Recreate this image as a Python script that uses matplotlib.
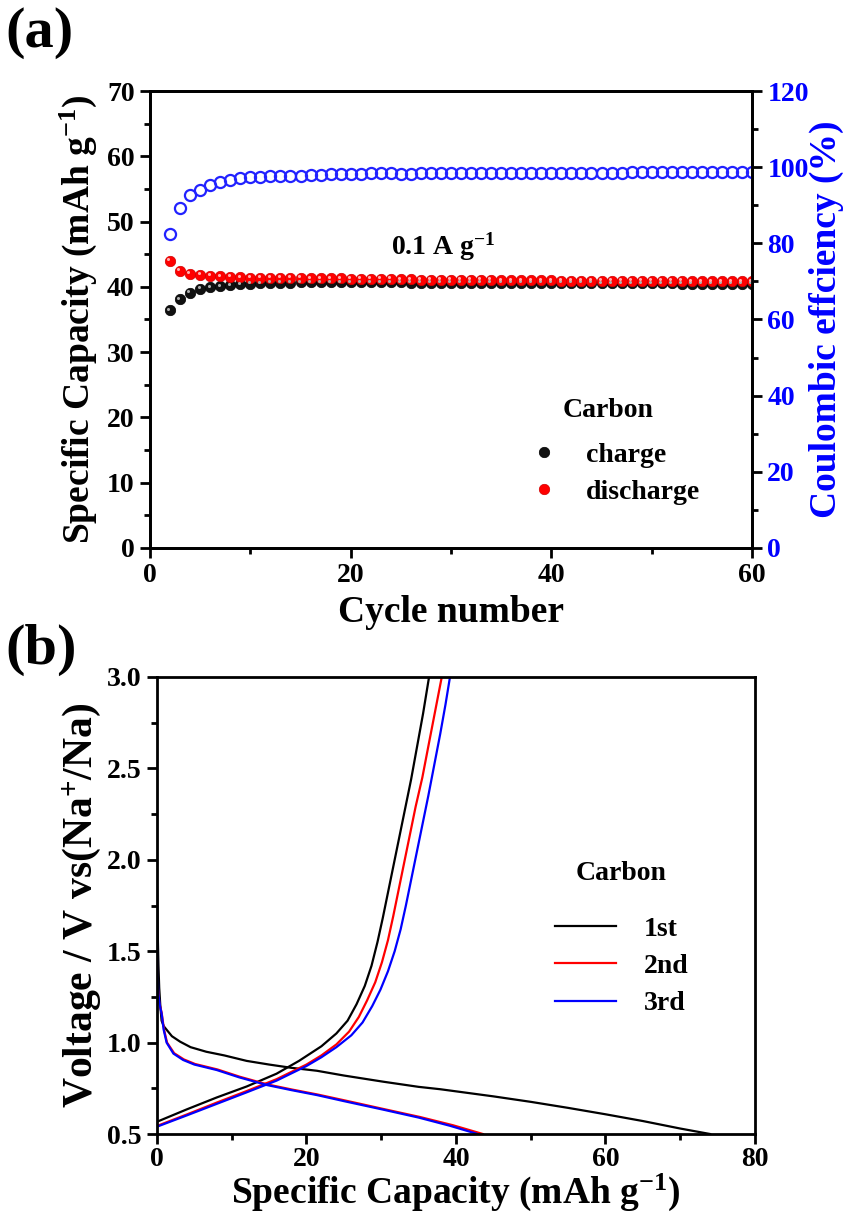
import numpy as np
import matplotlib
matplotlib.use('Agg')
import matplotlib.pyplot as plt
from matplotlib.ticker import MultipleLocator, FormatStrFormatter
from matplotlib.transforms import offset_copy

plt.rcParams['font.family'] = ['Liberation Serif', 'DejaVu Serif']
plt.rcParams['font.weight'] = 'bold'
plt.rcParams['mathtext.fontset'] = 'custom'
plt.rcParams['mathtext.rm'] = 'Liberation Serif'
plt.rcParams['mathtext.bf'] = 'Liberation Serif:bold'
plt.rcParams['mathtext.it'] = 'Liberation Serif:italic'

# ---- (a) cycling data ----
cycles = list(range(2, 61))
charge = [36.4, 38.1, 39.1, 39.65, 39.95, 40.1, 40.25, 40.4, 40.5, 40.55,
          40.6, 40.65, 40.65, 40.7, 40.7, 40.7, 40.7, 40.7, 40.7, 40.7,
          40.7, 40.7, 40.7, 40.7, 40.65, 40.65, 40.65, 40.65, 40.65, 40.65,
          40.65, 40.65, 40.65, 40.6, 40.6, 40.6, 40.6, 40.6, 40.6, 40.6,
          40.6, 40.6, 40.6, 40.55, 40.55, 40.55, 40.55, 40.55, 40.55, 40.55,
          40.55, 40.5, 40.5, 40.5, 40.5, 40.5, 40.5, 40.5, 40.5]
discharge = [44.0, 42.5, 42.0, 41.8, 41.7, 41.6, 41.5, 41.45, 41.4, 41.4,
             41.4, 41.35, 41.35, 41.35, 41.3, 41.3, 41.3, 41.3, 41.25, 41.25,
             41.2, 41.2, 41.2, 41.15, 41.15, 41.1, 41.1, 41.1, 41.1, 41.05,
             41.05, 41.05, 41.05, 41.0, 41.0, 41.0, 41.0, 41.0, 41.0, 40.95,
             40.95, 40.95, 40.95, 40.95, 40.95, 40.9, 40.9, 40.9, 40.9, 40.9,
             40.9, 40.9, 40.85, 40.85, 40.85, 40.85, 40.85, 40.85, 40.85]
efficiency = [82.4, 89.2, 92.6, 94.1, 95.2, 96.0, 96.6, 97.1, 97.5, 97.5,
              97.6, 97.6, 97.7, 97.8, 97.9, 98.0, 98.1, 98.2, 98.3, 98.3,
              98.4, 98.5, 98.6, 98.3, 98.3, 98.4, 98.4, 98.4, 98.5, 98.5,
              98.5, 98.5, 98.5, 98.5, 98.5, 98.5, 98.5, 98.6, 98.6, 98.6,
              98.6, 98.6, 98.6, 98.6, 98.6, 98.6, 98.7, 98.7, 98.7, 98.7,
              98.7, 98.7, 98.8, 98.8, 98.8, 98.8, 98.8, 98.8, 98.8]

# ---- (b) charge/discharge profiles (capacity, voltage) ----
dis1_x = [0, 0.1, 0.2, 0.3, 0.45, 0.62, 0.9, 1.3, 2, 3.1, 4.5, 6.6, 9, 12, 15,
          18, 21.4, 25, 30.3, 35, 37.9, 45, 50, 55, 60, 65, 70, 74]
dis1_v = [1.85, 1.6, 1.42, 1.3, 1.2, 1.12, 1.09, 1.07, 1.035, 1.005, 0.975,
          0.95, 0.93, 0.9, 0.88, 0.862, 0.846, 0.82, 0.786, 0.758, 0.745,
          0.706, 0.676, 0.643, 0.608, 0.571, 0.530, 0.5]
chg1_x = [0, 4, 8, 12, 16, 19, 22, 24, 25.5, 26.7, 27.8, 28.7, 29.5, 30.2,
          30.9, 31.6, 32.4, 33.2, 34.0, 34.8, 35.6, 36.4]
chg1_v = [0.567, 0.635, 0.70, 0.76, 0.83, 0.90, 0.98, 1.05, 1.12, 1.21, 1.31,
          1.42, 1.55, 1.68, 1.82, 1.96, 2.12, 2.28, 2.44, 2.62, 2.80, 3.0]
dis2_x = [0, 0.12, 0.3, 0.62, 0.95, 1.35, 2.3, 3.6, 5.1, 8.1, 11.1, 14.8, 18.1,
          21.5, 25.1, 30.4, 35.2, 39.6, 43.6]
dis2_v = [1.45, 1.3, 1.22, 1.165, 1.07, 1.0, 0.942, 0.908, 0.883, 0.853, 0.813,
          0.771, 0.743, 0.716, 0.684, 0.636, 0.593, 0.548, 0.5]
chg2_x = [0, 4, 8, 12, 16, 20, 22, 24, 25.7, 27.0, 28.1, 29.2, 30.1, 30.9, 31.6,
          32.3, 33.0, 33.8, 34.6, 35.5, 36.3, 37.2, 38.1]
chg2_v = [0.544, 0.607, 0.672, 0.735, 0.80, 0.88, 0.93, 0.99, 1.06, 1.14, 1.23,
          1.33, 1.44, 1.56, 1.69, 1.83, 1.97, 2.13, 2.29, 2.45, 2.62, 2.81, 3.0]
dis3_x = [0, 0.08, 0.18, 0.4, 0.62, 0.9, 1.29, 2.2, 3.5, 5, 8.0, 11, 14.7, 18,
          21.4, 25, 30.3, 35, 39.2, 42.9]
dis3_v = [1.56, 1.4, 1.27, 1.2, 1.16, 1.07, 1.0, 0.94, 0.905, 0.88, 0.85, 0.81,
          0.768, 0.74, 0.713, 0.68, 0.633, 0.59, 0.545, 0.5]
chg3_x = [0, 4, 8, 12, 16, 20, 22, 24, 26, 27.5, 28.8, 29.9, 30.9, 31.8, 32.6,
          33.3, 34.0, 34.7, 35.5, 36.3, 37.1, 37.9, 38.6, 39.2]
chg3_v = [0.540, 0.602, 0.665, 0.728, 0.792, 0.872, 0.92, 0.975, 1.04, 1.11,
          1.20, 1.29, 1.39, 1.50, 1.62, 1.75, 1.89, 2.03, 2.19, 2.35, 2.52,
          2.69, 2.85, 3.0]

BLUE = '#0000ff'
tick_fs = 20
label_fs = 27

fig = plt.figure(figsize=(8.48, 12.22), dpi=100)
ax1 = fig.add_axes([0.1769, 0.5516, 0.7099, 0.3739])
ax3 = fig.add_axes([0.1851, 0.0720, 0.7052, 0.3740])


def style_axis(ax):
    for s in ax.spines.values():
        s.set_linewidth(2)
    ax.tick_params(which='major', direction='out', length=7, width=2,
                   labelsize=tick_fs, pad=4)
    ax.tick_params(which='minor', direction='out', length=4, width=2)


# ---- panel (a) ----
style_axis(ax1)
h_ch, = ax1.plot(cycles, charge, 'o', color='#111111', mec='#000000', ms=7.5,
                 mew=0.5, label='charge', zorder=3)
ax1.plot(cycles, charge, 'o', color='#b0b0b0', ms=2.2, mew=0, zorder=4,
         transform=offset_copy(ax1.transData, fig=fig, x=-1.2, y=1.2, units='points'))
h_dis, = ax1.plot(cycles, discharge, 'o', color='#ff0000', mec='#d00000', ms=7.5,
                  mew=0.5, label='discharge', zorder=3)
ax1.plot(cycles, discharge, 'o', color='#ffb0b0', ms=2.2, mew=0, zorder=4,
         transform=offset_copy(ax1.transData, fig=fig, x=-1.2, y=1.2, units='points'))
ax1.set_xlim(0, 60)
ax1.set_ylim(0, 70)
ax1.xaxis.set_major_locator(MultipleLocator(20))
ax1.xaxis.set_minor_locator(MultipleLocator(10))
ax1.yaxis.set_major_locator(MultipleLocator(10))
ax1.yaxis.set_minor_locator(MultipleLocator(5))
ax1.set_xlabel('Cycle number', fontsize=label_fs, fontweight='bold', labelpad=5)
ax1.set_ylabel('Specific Capacity (mAh g$^{\\mathbf{-1}}$)', fontsize=label_fs,
               fontweight='bold', labelpad=6)
ax1.text(0.40, 0.643, '0.1 A g$^{\\mathbf{-1}}$', transform=ax1.transAxes,
         fontsize=20, fontweight='bold')

ax2 = ax1.twinx()
ax2.plot(cycles, efficiency, 'o', mfc='none', mec='#2222ff', ms=8, mew=1.6)
ax2.set_ylim(0, 120)
ax2.yaxis.set_major_locator(MultipleLocator(20))
ax2.yaxis.set_minor_locator(MultipleLocator(10))
for s in ax2.spines.values():
    s.set_linewidth(2)
ax2.tick_params(which='major', direction='out', length=7, width=2,
                labelsize=tick_fs, labelcolor=BLUE, pad=4)
ax2.tick_params(which='minor', direction='out', length=4, width=2)
ax2.set_ylabel('Coulombic effciency (%)', fontsize=label_fs, fontweight='bold',
               color=BLUE, labelpad=0)

leg1 = ax1.legend([h_ch, h_dis], ['charge', 'discharge'], title='Carbon',
                  loc='lower left', bbox_to_anchor=(0.567, 0.04), frameon=False,
                  prop={'size': 20, 'weight': 'bold'}, handletextpad=0.5,
                  labelspacing=0.4, title_fontproperties={'size': 20, 'weight': 'bold'})
leg1._legend_box.sep = 14

# ---- panel (b) ----
style_axis(ax3)
ax3.tick_params(axis='x', which='major', pad=2)
l1, = ax3.plot(dis1_x, dis1_v, color='black', lw=1.6, label='1st')
ax3.plot(chg1_x, chg1_v, color='black', lw=1.6)
l2, = ax3.plot(dis2_x, dis2_v, color='red', lw=1.6, label='2nd')
ax3.plot(chg2_x, chg2_v, color='red', lw=1.6)
l3, = ax3.plot(dis3_x, dis3_v, color='blue', lw=1.6, label='3rd')
ax3.plot(chg3_x, chg3_v, color='blue', lw=1.6)
ax3.set_xlim(0, 80)
ax3.set_ylim(0.5, 3.0)
ax3.xaxis.set_major_locator(MultipleLocator(20))
ax3.xaxis.set_minor_locator(MultipleLocator(10))
ax3.yaxis.set_major_locator(MultipleLocator(0.5))
ax3.yaxis.set_minor_locator(MultipleLocator(0.25))
ax3.yaxis.set_major_formatter(FormatStrFormatter('%.1f'))
ax3.set_xlabel('Specific Capacity (mAh g$^{-1}$)', fontsize=label_fs,
               fontweight='bold', labelpad=0)
ax3.set_ylabel('Voltage / V $\\mathrm{vs}$(Na$^{+}$/Na)', fontsize=30,
               fontweight='bold', labelpad=3)
leg2 = ax3.legend([l1, l2, l3], ['1st', '2nd', '3rd'], title='Carbon',
                  loc='lower left', bbox_to_anchor=(0.623, 0.203), frameon=False,
                  prop={'size': 20, 'weight': 'bold'}, handlelength=2.2,
                  handletextpad=1.0, labelspacing=0.42,
                  title_fontproperties={'size': 20, 'weight': 'bold'})
leg2._legend_box.sep = 22

fig.text(0.006, 0.962, '(a)', fontsize=42, fontweight='bold')
fig.text(0.006, 0.457, '(b)', fontsize=42, fontweight='bold')

fig.savefig('out.png', dpi=100)
